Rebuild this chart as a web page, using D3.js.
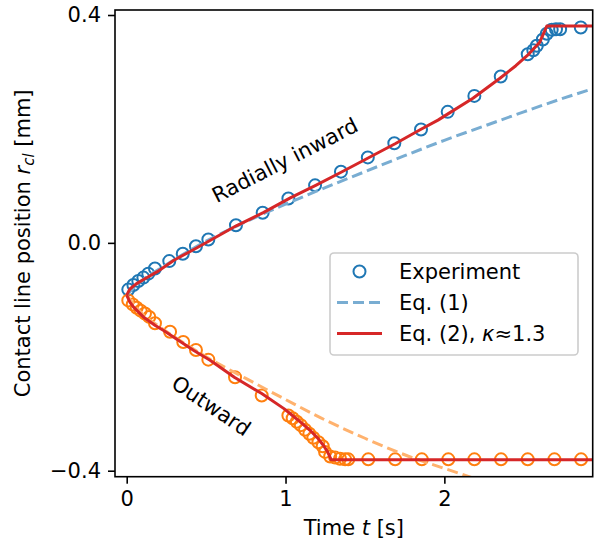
<!DOCTYPE html>
<html>
<head>
<meta charset="utf-8">
<script src="https://cdn.jsdelivr.net/npm/d3@7"></script>
<style>
  html, body { margin: 0; padding: 0; background: #ffffff; }
  svg { display: block; font-family: "DejaVu Sans", sans-serif; }
</style>
</head>
<body>
<svg id="chart" width="596" height="545"></svg>
<script>
// ---------------- data ----------------
const xTicks = [0, 1, 2];
const yTicks = [-0.4, 0.0, 0.4];

// Experiment, radially inward (blue circles)
const inT = [0.010, 0.042, 0.073, 0.105, 0.136, 0.178, 0.268, 0.353, 0.436, 0.514, 0.688, 0.856, 1.018, 1.186, 1.349, 1.518, 1.685, 1.853, 2.021, 2.189, 2.355, 2.525, 2.560, 2.582, 2.620, 2.645, 2.676, 2.703, 2.729, 2.859];
const inR = [-0.082, -0.074, -0.067, -0.061, -0.054, -0.045, -0.032, -0.019, -0.006, 0.006, 0.031, 0.053, 0.078, 0.101, 0.125, 0.150, 0.175, 0.199, 0.230, 0.258, 0.292, 0.331, 0.338, 0.346, 0.357, 0.367, 0.374, 0.375, 0.375, 0.378];

// Experiment, outward (orange circles)
const outT = [0.010, 0.038, 0.063, 0.088, 0.115, 0.142, 0.178, 0.273, 0.356, 0.436, 0.514, 0.682, 0.850, 1.018, 1.045, 1.071, 1.096, 1.123, 1.150, 1.175, 1.207, 1.234, 1.249, 1.281, 1.312, 1.343, 1.375, 1.395, 1.521, 1.690, 1.858, 2.025, 2.189, 2.357, 2.525, 2.693, 2.861];
const outR = [-0.101, -0.108, -0.114, -0.119, -0.124, -0.130, -0.141, -0.156, -0.174, -0.188, -0.205, -0.236, -0.268, -0.303, -0.308, -0.314, -0.320, -0.328, -0.335, -0.342, -0.350, -0.357, -0.367, -0.375, -0.377, -0.379, -0.380, -0.380, -0.380, -0.380, -0.380, -0.380, -0.380, -0.380, -0.380, -0.380, -0.380];

// Eq. (1), dashed
const eq1InT = [0, 0.1, 0.2, 0.35, 0.5, 0.75, 1.0, 1.25, 1.5, 1.75, 2.0, 2.25, 2.5, 2.75, 2.95];
const eq1InR = [-0.0918, -0.065, -0.047, -0.021, 0.003, 0.037, 0.068, 0.097, 0.125, 0.153, 0.180, 0.205, 0.230, 0.254, 0.272];
const eq1OutT = [0, 0.1, 0.2, 0.35, 0.5, 0.75, 1.0, 1.25, 1.5, 1.75, 2.0, 2.25, 2.5];
const eq1OutR = [-0.0918, -0.125, -0.146, -0.174, -0.200, -0.238, -0.275, -0.311, -0.343, -0.372, -0.396, -0.419, -0.442];

// Eq. (2), kappa ~ 1.3, solid red
const eq2InT = [0, 0.02, 0.06, 0.12, 0.19, 0.30, 0.42, 0.53, 0.69, 0.86, 1.03, 1.19, 1.35, 1.52, 1.69, 1.85, 1.96, 2.02, 2.18, 2.35, 2.45, 2.53, 2.60, 2.645, 2.95];
const eq2InR = [-0.0918, -0.081, -0.072, -0.062, -0.051, -0.030, -0.012, 0.005, 0.030, 0.053, 0.079, 0.101, 0.124, 0.149, 0.174, 0.199, 0.2155, 0.226, 0.254, 0.289, 0.311, 0.331, 0.352, 0.3806, 0.3806];
const eq2OutT = [0, 0.02, 0.042, 0.105, 0.18, 0.23, 0.33, 0.42, 0.525, 0.68, 0.85, 0.99, 1.03, 1.10, 1.154, 1.20, 1.238, 1.265, 1.287, 2.95];
const eq2OutR = [-0.0918, -0.104, -0.1124, -0.130, -0.145, -0.1533, -0.172, -0.1885, -0.206, -0.2364, -0.2645, -0.291, -0.300, -0.316, -0.329, -0.342, -0.3553, -0.367, -0.3806, -0.3806];

const legendLabels = ["Experiment", "Eq. (1)", "Eq. (2), "];

// ---------------- layout ----------------
const svg = d3.select("#chart");
const L = 115, R = 592.7, T = 10, B = 476.7;
const FS = 21;
const cBlue = "#1f77b4", cOrange = "#ff7f0e", cRed = "#d62728";
const cBlueL = "#79add2", cOrangeL = "#ffb26e";

const x = d3.scaleLinear().domain([-0.0737, 2.934]).range([L, R]);
const y = d3.scaleLinear().domain([-0.4105, 0.4088]).range([B, T]);

svg.append("defs").append("clipPath").attr("id", "clip")
  .append("rect").attr("x", L).attr("y", T).attr("width", R - L).attr("height", B - T);

const zip = (a, b) => a.map((v, i) => [v, b[i]]);
const line = d3.line().x(d => x(d[0])).y(d => y(d[1]));

const plot = svg.append("g").attr("clip-path", "url(#clip)");

// markers
function markers(ts, rs, color) {
  plot.append("g").selectAll("circle").data(zip(ts, rs)).join("circle")
    .attr("cx", d => x(d[0])).attr("cy", d => y(d[1])).attr("r", 6)
    .attr("fill", "none").attr("stroke", color).attr("stroke-width", 2);
}
markers(inT, inR, cBlue);
markers(outT, outR, cOrange);

// Eq. (1) dashed
plot.append("path").datum(zip(eq1InT, eq1InR)).attr("d", line.curve(d3.curveMonotoneX))
  .attr("fill", "none").attr("stroke", cBlueL).attr("stroke-width", 3).attr("stroke-dasharray", "11,5");
plot.append("path").datum(zip(eq1OutT, eq1OutR)).attr("d", line.curve(d3.curveMonotoneX))
  .attr("fill", "none").attr("stroke", cOrangeL).attr("stroke-width", 3).attr("stroke-dasharray", "11,5");

// Eq. (2) red
const lineLin = d3.line().x(d => x(d[0])).y(d => y(d[1]));
plot.append("path").datum(zip(eq2InT, eq2InR)).attr("d", lineLin)
  .attr("fill", "none").attr("stroke", cRed).attr("stroke-width", 3).attr("stroke-linejoin", "round");
plot.append("path").datum(zip(eq2OutT, eq2OutR)).attr("d", lineLin)
  .attr("fill", "none").attr("stroke", cRed).attr("stroke-width", 3).attr("stroke-linejoin", "round");

// axes
const xAxis = svg.append("g").attr("transform", `translate(0,${B})`)
  .call(d3.axisBottom(x).tickValues(xTicks).tickFormat(d3.format("d")).tickSize(7).tickPadding(7));
const yAxis = svg.append("g").attr("transform", `translate(${L},0)`)
  .call(d3.axisLeft(y).tickValues(yTicks).tickFormat(d3.format(".1f")).tickSize(7).tickPadding(7));
[xAxis, yAxis].forEach(g => {
  g.select(".domain").remove();
  g.selectAll(".tick line").attr("stroke", "#000").attr("stroke-width", 1.6);
  g.selectAll(".tick text").attr("fill", "#000").style("font-size", FS + "px").style("font-family", "DejaVu Sans");
});

// frame
svg.append("rect").attr("x", L).attr("y", T).attr("width", R - L).attr("height", B - T)
  .attr("fill", "none").attr("stroke", "#000").attr("stroke-width", 1.6);

// axis labels
const xl = svg.append("text").attr("x", (L + R) / 2).attr("y", 535).attr("text-anchor", "middle")
  .style("font-size", FS + "px");
xl.append("tspan").text("Time ");
xl.append("tspan").attr("font-style", "italic").text("t");
xl.append("tspan").text(" [s]");

const yl = svg.append("text").attr("transform", `translate(30,${(T + B) / 2}) rotate(-90)`)
  .attr("text-anchor", "middle").style("font-size", FS + "px");
yl.append("tspan").text("Contact line position ");
yl.append("tspan").attr("font-style", "italic").text("r");
yl.append("tspan").attr("font-style", "italic").attr("dy", 4).style("font-size", "15px").text("cl");
yl.append("tspan").attr("dy", -4).text(" [mm]");

// annotations
svg.append("text").attr("transform", "translate(285,160.5) rotate(-27)")
  .attr("text-anchor", "middle").attr("dominant-baseline", "central")
  .style("font-size", FS + "px").text("Radially inward");
svg.append("text").attr("transform", "translate(211,406) rotate(34)")
  .attr("text-anchor", "middle").attr("dominant-baseline", "central")
  .style("font-size", FS + "px").text("Outward");

// legend
const lg = svg.append("g");
lg.append("rect").attr("x", 330).attr("y", 253).attr("width", 248).attr("height", 102).attr("rx", 4)
  .attr("fill", "#fff").attr("fill-opacity", 0.8).attr("stroke", "#cccccc").attr("stroke-width", 1.6);
const rows = [271.5, 302.5, 333.5];
lg.append("circle").attr("cx", 359.5).attr("cy", rows[0]).attr("r", 6)
  .attr("fill", "none").attr("stroke", cBlue).attr("stroke-width", 2);
lg.append("line").attr("x1", 337).attr("x2", 382).attr("y1", rows[1]).attr("y2", rows[1])
  .attr("stroke", cBlueL).attr("stroke-width", 3).attr("stroke-dasharray", "11,5");
lg.append("line").attr("x1", 337).attr("x2", 382).attr("y1", rows[2]).attr("y2", rows[2])
  .attr("stroke", cRed).attr("stroke-width", 3);
legendLabels.forEach((lab, i) => {
  const t = lg.append("text").attr("x", 399).attr("y", rows[i]).attr("dominant-baseline", "central")
    .style("font-size", FS + "px").text(lab);
  if (i === 2) {
    t.append("tspan").attr("font-style", "italic").text("κ");
    t.append("tspan").text("≈1.3");
  }
});
</script>
</body>
</html>
